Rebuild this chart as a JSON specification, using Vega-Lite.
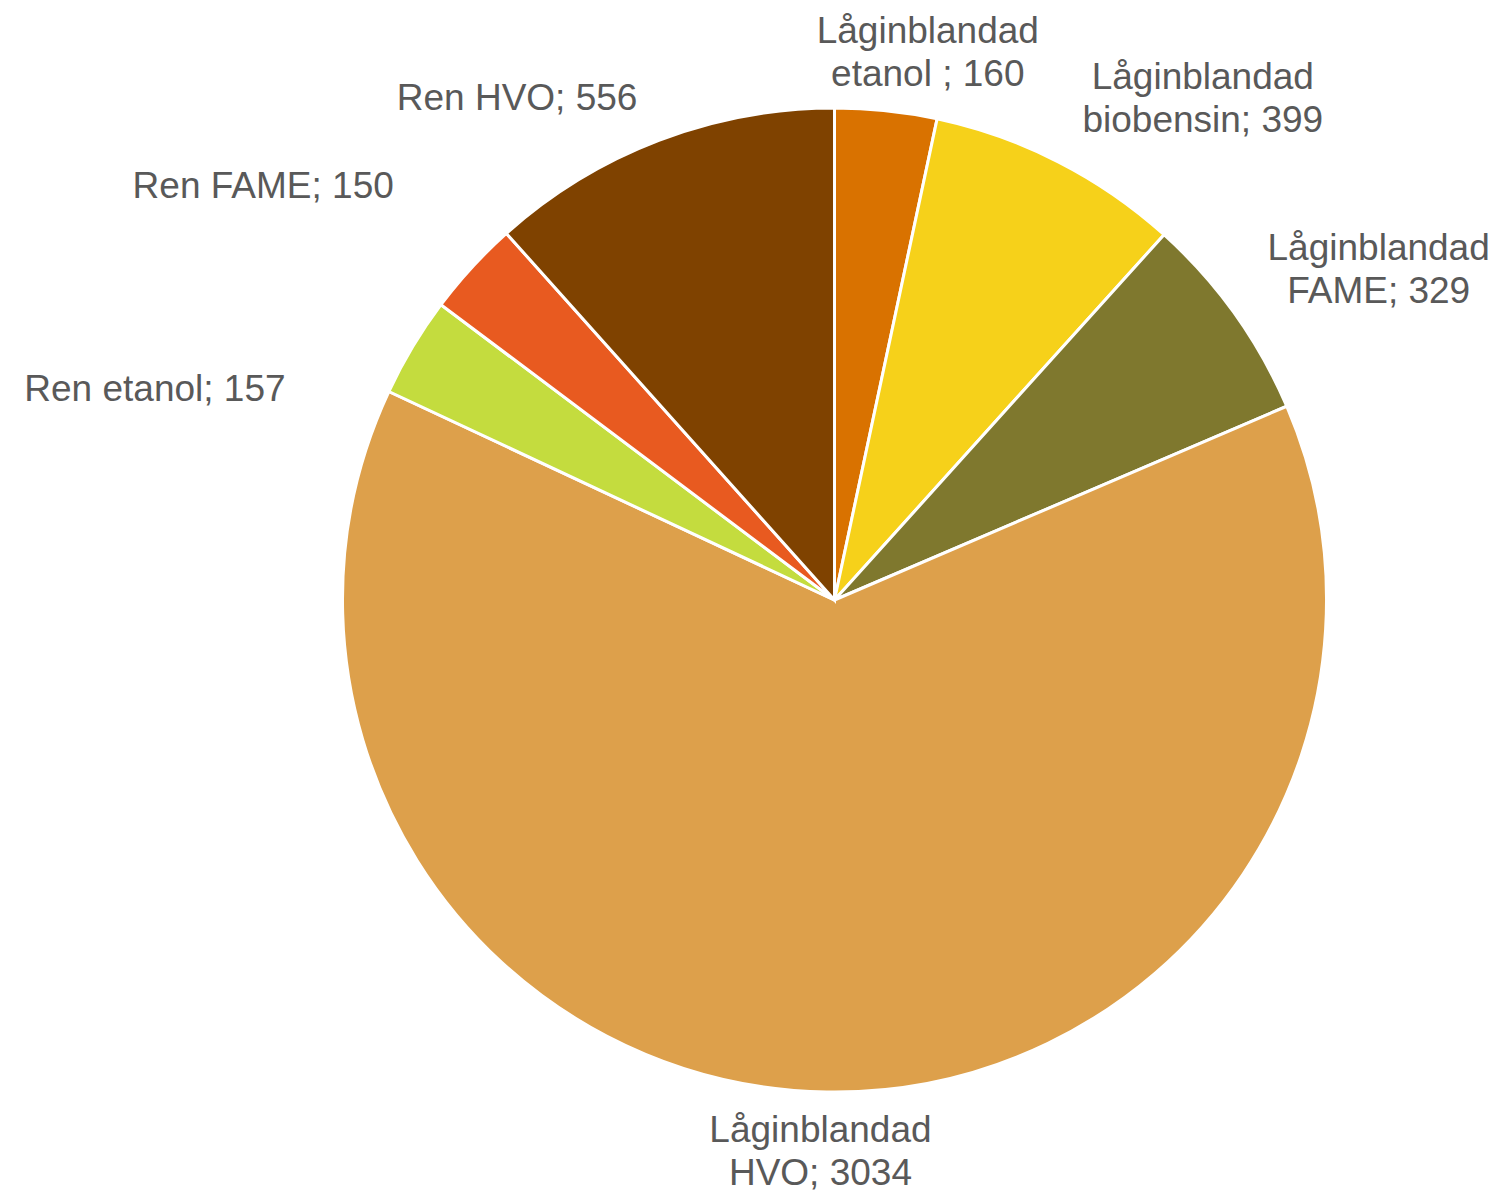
{
  "$schema": "https://vega.github.io/schema/vega-lite/v6.json",
  "width": 1325,
  "height": 1190,
  "padding": {"left": 172, "top": 5, "right": 0, "bottom": 0},
  "autosize": {"type": "none"},
  "background": "white",
  "config": {"view": {"stroke": null}},
  "data": {
    "values": [
      {"idx": 1, "key": "Låginblandad etanol", "value": 160, "label": "Låginblandad\netanol ; 160"},
      {"idx": 2, "key": "Låginblandad biobensin", "value": 399, "label": "Låginblandad\nbiobensin; 399"},
      {"idx": 3, "key": "Låginblandad FAME", "value": 329, "label": "Låginblandad\nFAME; 329"},
      {"idx": 4, "key": "Låginblandad HVO", "value": 3034, "label": "Låginblandad\nHVO; 3034"},
      {"idx": 5, "key": "Ren etanol", "value": 157, "label": "Ren etanol; 157"},
      {"idx": 6, "key": "Ren FAME", "value": 150, "label": "Ren FAME; 150"},
      {"idx": 7, "key": "Ren HVO", "value": 556, "label": "Ren HVO; 556"}
    ]
  },
  "encoding": {
    "theta": {"field": "value", "type": "quantitative", "stack": true},
    "order": {"field": "idx", "type": "quantitative", "sort": "ascending"},
    "detail": {"field": "key", "type": "nominal"}
  },
  "layer": [
    {
      "mark": {"type": "arc", "outerRadius": 492, "stroke": "white", "strokeWidth": 3},
      "encoding": {
        "color": {
          "field": "key", "type": "nominal", "legend": null,
          "scale": {
            "domain": ["Låginblandad etanol", "Låginblandad biobensin", "Låginblandad FAME", "Låginblandad HVO", "Ren etanol", "Ren FAME", "Ren HVO"],
            "range": ["#D97200", "#F6D11A", "#7F782E", "#DDA04B", "#C4DC3E", "#E85A20", "#7F4200"]
          }
        }
      }
    },
    {
      "mark": {"type": "text", "radius": 556, "dx": 35, "dy": -15, "font": "Liberation Sans", "fontSize": 37, "lineHeight": 43, "lineBreak": "\n", "color": "#595959", "align": "center", "baseline": "middle"},
      "encoding": {"text": {"condition": {"test": "datum.idx === 1", "field": "label"}, "value": ""}}
    },
    {
      "mark": {"type": "text", "radius": 623, "dx": 85, "dy": 33, "font": "Liberation Sans", "fontSize": 37, "lineHeight": 43, "lineBreak": "\n", "color": "#595959", "align": "center", "baseline": "middle"},
      "encoding": {"text": {"condition": {"test": "datum.idx === 2", "field": "label"}, "value": ""}}
    },
    {
      "mark": {"type": "text", "radius": 637, "dx": 26, "dy": 20, "font": "Liberation Sans", "fontSize": 37, "lineHeight": 43, "lineBreak": "\n", "color": "#595959", "align": "center", "baseline": "middle"},
      "encoding": {"text": {"condition": {"test": "datum.idx === 3", "field": "label"}, "value": ""}}
    },
    {
      "mark": {"type": "text", "radius": 551, "dx": -5, "dy": -20, "font": "Liberation Sans", "fontSize": 37, "lineHeight": 43, "lineBreak": "\n", "color": "#595959", "align": "center", "baseline": "middle"},
      "encoding": {"text": {"condition": {"test": "datum.idx === 4", "field": "label"}, "value": ""}}
    },
    {
      "mark": {"type": "text", "radius": 711, "dx": -70, "dy": 156, "font": "Liberation Sans", "fontSize": 37, "lineHeight": 43, "lineBreak": "\n", "color": "#595959", "align": "center", "baseline": "middle"},
      "encoding": {"text": {"condition": {"test": "datum.idx === 5", "field": "label"}, "value": ""}}
    },
    {
      "mark": {"type": "text", "radius": 706, "dx": -51, "dy": 64, "font": "Liberation Sans", "fontSize": 37, "lineHeight": 43, "lineBreak": "\n", "color": "#595959", "align": "center", "baseline": "middle"},
      "encoding": {"text": {"condition": {"test": "datum.idx === 6", "field": "label"}, "value": ""}}
    },
    {
      "mark": {"type": "text", "radius": 595, "dx": -105, "dy": 55, "font": "Liberation Sans", "fontSize": 37, "lineHeight": 43, "lineBreak": "\n", "color": "#595959", "align": "center", "baseline": "middle"},
      "encoding": {"text": {"condition": {"test": "datum.idx === 7", "field": "label"}, "value": ""}}
    }
  ]
}
